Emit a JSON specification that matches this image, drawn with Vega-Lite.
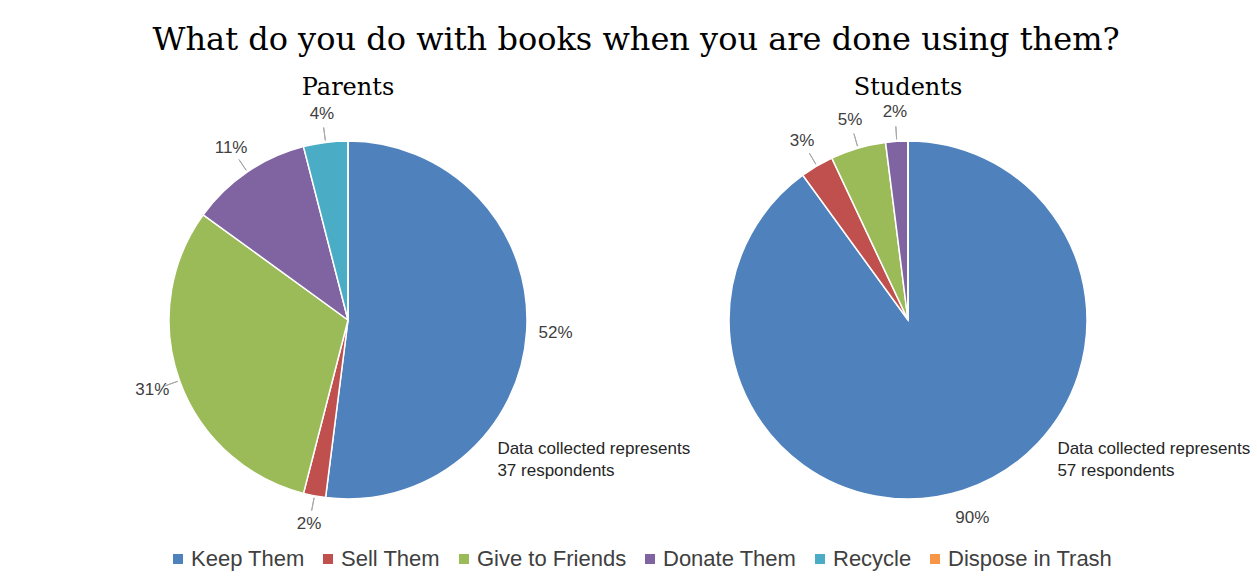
{
  "$schema": "https://vega.github.io/schema/vega-lite/v6.json",
  "background": "white",
  "padding": {"left": 98, "top": 24, "right": 5, "bottom": 5},
  "bounds": "flush",
  "title": {
    "text": "What do you do with books when you are done using them?",
    "font": "DejaVu Serif",
    "fontSize": 32,
    "fontWeight": "normal",
    "color": "#000000",
    "anchor": "middle",
    "dx": -38,
    "offset": 19
  },
  "data": {
    "values": [
      {"group": "Parents", "item": "Keep Them", "k": 1, "pct": 0.52, "note": "Data collected represents\n37 respondents"},
      {"group": "Parents", "item": "Sell Them", "k": 2, "pct": 0.02, "note": ""},
      {"group": "Parents", "item": "Give to Friends", "k": 3, "pct": 0.31, "note": ""},
      {"group": "Parents", "item": "Donate Them", "k": 4, "pct": 0.11, "note": ""},
      {"group": "Parents", "item": "Recycle", "k": 5, "pct": 0.04, "note": ""},
      {"group": "Parents", "item": "Dispose in Trash", "k": 6, "pct": 0.0, "note": ""},
      {"group": "Students", "item": "Keep Them", "k": 1, "pct": 0.90, "note": "Data collected represents\n57 respondents"},
      {"group": "Students", "item": "Sell Them", "k": 2, "pct": 0.03, "note": ""},
      {"group": "Students", "item": "Give to Friends", "k": 3, "pct": 0.05, "note": ""},
      {"group": "Students", "item": "Donate Them", "k": 4, "pct": 0.02, "note": ""},
      {"group": "Students", "item": "Recycle", "k": 5, "pct": 0.0, "note": ""},
      {"group": "Students", "item": "Dispose in Trash", "k": 6, "pct": 0.0, "note": ""}
    ]
  },
  "facet": {
    "column": {
      "field": "group",
      "type": "nominal",
      "sort": ["Parents", "Students"],
      "header": {
        "title": null,
        "labelFont": "DejaVu Serif",
        "labelFontSize": 24,
        "labelColor": "#000000",
        "labelPadding": 20
      }
    }
  },
  "spacing": 60,
  "spec": {
    "width": 500,
    "height": 400,
    "layer": [
      {
        "mark": {"type": "arc", "outerRadius": 179, "stroke": "#ffffff", "strokeWidth": 1.5},
        "encoding": {
          "theta": {"field": "pct", "type": "quantitative", "stack": true},
          "order": {"field": "k", "type": "quantitative"},
          "color": {
            "field": "item",
            "type": "nominal",
            "scale": {
              "domain": ["Keep Them", "Sell Them", "Give to Friends", "Donate Them", "Recycle", "Dispose in Trash"],
              "range": ["#4F81BD", "#C0504D", "#9BBB59", "#8064A2", "#4BACC6", "#F79646"]
            },
            "legend": {
              "title": null,
              "orient": "none",
              "legendX": 69,
              "legendY": 428,
              "direction": "horizontal",
              "symbolType": "square",
              "symbolSize": 100,
              "symbolStrokeWidth": 0,
              "labelFont": "Liberation Sans",
              "labelFontSize": 22,
              "labelColor": "#404040",
              "labelLimit": 400,
              "labelOffset": 2,
              "columnPadding": 12
            }
          }
        }
      },
      {
        "mark": {"type": "arc", "filled": false, "stroke": "#A6A6A6", "strokeWidth": 1, "outerRadius": 194, "innerRadius": 181, "padAngle": 3.1416},
        "encoding": {
          "theta": {"field": "pct", "type": "quantitative", "stack": true},
          "order": {"field": "k", "type": "quantitative"},
          "detail": {"field": "item"},
          "strokeOpacity": {
            "condition": {"test": "datum.pct > 0 && datum.pct < 0.5", "value": 1},
            "value": 0
          }
        }
      },
      {
        "transform": [{"filter": "datum.pct > 0"}],
        "mark": {"type": "text", "font": "Liberation Sans", "fontSize": 17, "color": "#404040", "radius": 208},
        "encoding": {
          "theta": {"field": "pct", "type": "quantitative", "stack": true},
          "order": {"field": "k", "type": "quantitative"},
          "detail": {"field": "item"},
          "text": {"field": "pct", "type": "quantitative", "format": ".0%"}
        }
      },
      {
        "transform": [{"filter": "datum.item == 'Keep Them'"}],
        "mark": {"type": "text", "font": "Liberation Sans", "fontSize": 17, "color": "#262626", "align": "left", "baseline": "top", "lineBreak": "\n", "lineHeight": 22, "theta": 2.25, "radius": 192},
        "encoding": {
          "text": {"field": "note"}
        }
      }
    ]
  },
  "config": {
    "view": {"stroke": null}
  }
}
